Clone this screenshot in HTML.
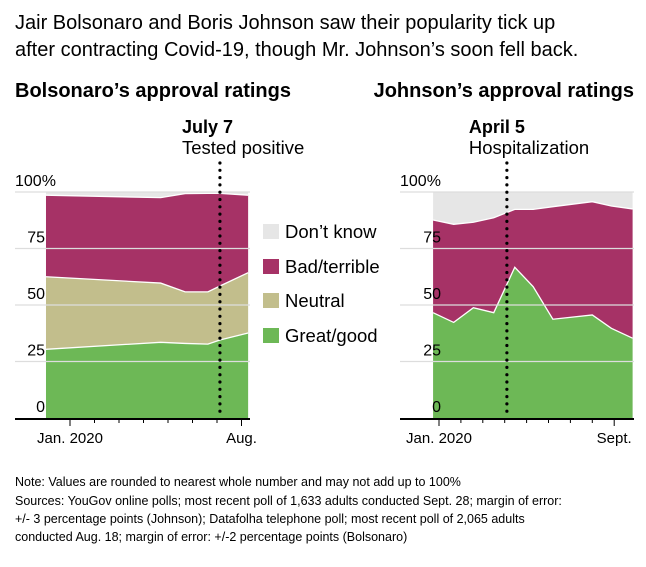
<!DOCTYPE html>
<html><head><meta charset="utf-8"><style>
body{margin:0;background:#fff;font-family:"Liberation Sans",sans-serif;color:#111}
svg text{font-family:"Liberation Sans",sans-serif}
</style></head><body>
<svg width="646" height="562" xmlns="http://www.w3.org/2000/svg">
<text x="15" y="29" font-size="20">Jair Bolsonaro and Boris Johnson saw their popularity tick up</text>
<text x="15" y="56" font-size="20">after contracting Covid-19, though Mr. Johnson’s soon fell back.</text>
<text x="15" y="97" font-size="20" font-weight="bold">Bolsonaro’s approval ratings</text>
<text x="634" y="97" font-size="20" font-weight="bold" text-anchor="end">Johnson’s approval ratings</text>
<g id="left"></g>
<g id="right"></g>
<g>
<rect x="263" y="224" width="16" height="15" fill="#e6e6e6"/>
<text x="285" y="238" font-size="18.5">Don’t know</text>
<rect x="263" y="259" width="16" height="15" fill="#a63266"/>
<text x="285" y="273" font-size="18.5">Bad/terrible</text>
<rect x="263" y="293" width="16" height="15" fill="#c2be8c"/>
<text x="285" y="307" font-size="18.5">Neutral</text>
<rect x="263" y="328" width="16" height="15" fill="#6db856"/>
<text x="285" y="342" font-size="18.5">Great/good</text>
</g>
<g font-size="12.5">
<text x="15" y="486">Note: Values are rounded to nearest whole number and may not add up to 100%</text>
<text x="15" y="505">Sources: YouGov online polls; most recent poll of 1,633 adults conducted Sept. 28; margin of error:</text>
<text x="15" y="523">+/- 3 percentage points (Johnson); Datafolha telephone poll; most recent poll of 2,065 adults</text>
<text x="15" y="541">conducted Aug. 18; margin of error: +/-2 percentage points (Bolsonaro)</text>
</g>
</svg>
<script>
// Bolsonaro data (month index, Jan 2020 = 0)
const bMonths=[-0.98,3.7,4.7,5.63,6.12,7.27];
const bGood=[30.4,33.5,33,32.7,34.5,37.6];
const bNeutral=[32.1,26.2,22.8,23.1,23.9,26.7];
const bBad=[36.1,37.8,43.5,43.6,41,34.3];
const bTickLabels=["Jan. 2020","Aug."];
// Johnson data
const jMonths=[-0.27,0.67,1.57,2.5,3.46,4.3,5.2,7.0,7.87,8.84];
const jGood=[46.6,42.3,48.8,46.6,66.7,58.1,43.7,45.6,39.7,35.3];
const jBad=[41,43.4,37.8,42,25.6,34.2,49.8,50.1,54.1,57.2];
const jTickLabels=["Jan. 2020","Sept."];
const yTicks=[0,25,50,75,100];
const NS="http://www.w3.org/2000/svg";
function mk(p,t,a){const e=document.createElementNS(NS,t);for(const k in a)e.setAttribute(k,a[k]);p.appendChild(e);return e;}
function y(v){return 418-v*2.26;}
function draw(g,cfg){
  const x=m=>cfg.x0+m*cfg.pm;
  const M=cfg.months;
  let cum=M.map(()=>0);
  const layers=cfg.layers;
  const top=M.map(()=>100);
  function area(ms,lo,hi){let d='M'+ms.map((m,i)=>x(m)+','+y(hi[i])).join('L');for(let i=ms.length-1;i>=0;i--)d+='L'+x(ms[i])+','+y(lo[i]);return d+'Z';}
  const bg=mk(g,'path',{d:area(M,cum,top),fill:'#e6e6e6'});
  
  
  const stack=[];
  layers.forEach(L=>{const hi=cum.map((c,i)=>c+L.vals[i]);stack.push([cum,hi,L]);cum=hi;});
  for(let k=stack.length-1;k>=0;k--){const [lo,hi,L]=stack[k];
    const p=mk(g,'path',{d:area(M,lo,hi),fill:L.color});
    
    
    const l=mk(g,'path',{d:'M'+M.map((m,i)=>x(m)+','+y(hi[i])).join('L'),fill:'none',stroke:'#fff','stroke-width':1.3});
    
    
  }
  yTicks.forEach(t=>{
    if(t>0){const gl=mk(g,'line',{x1:cfg.ax0,x2:cfg.ax1,y1:y(t),y2:y(t),stroke:'#ddd','stroke-width':1.2});
    
    }
    const tx=mk(g,'text',{x:cfg.lx,y:y(t)-6,'font-size':16,'text-anchor':t==100?'start':'end'});
    if(t==100)tx.setAttribute('x',cfg.ax0);
    tx.textContent=t==100?'100%':t;
    
    
  });
  const ax=mk(g,'line',{x1:cfg.ax0,x2:cfg.ax1,y1:419,y2:419,stroke:'#000','stroke-width':2});
  
  
  for(let m=0;m<=cfg.nm;m++){const t=mk(g,'line',{x1:x(m),x2:x(m),y1:419,y2:m==0||m==cfg.nm?426:423,stroke:'#000','stroke-width':1});
    
    }
  const l1=mk(g,'text',{x:x(0),y:443,'font-size':15,'text-anchor':'middle'});l1.textContent=cfg.ticks[0];
  
  
  const l2=mk(g,'text',{x:x(cfg.nm),y:443,'font-size':15,'text-anchor':'middle'});l2.textContent=cfg.ticks[1];
  
  
  const ev=mk(g,'line',{x1:x(cfg.ev),x2:x(cfg.ev),y1:163,y2:418,stroke:'#000','stroke-width':3.2,'stroke-dasharray':'0 7.3','stroke-linecap':'round'});
  
  
  const e1=mk(g,'text',{x:x(cfg.ev)-38,y:133,'font-size':18,'font-weight':'bold'});e1.textContent=cfg.evt[0];
  
  
  const e2=mk(g,'text',{x:x(cfg.ev)-38,y:154,'font-size':18.5});e2.textContent=cfg.evt[1];
  
  
}
draw(document.getElementById('left'),{x0:70,pm:24.5,months:bMonths,nm:7,ax0:15,ax1:250,lx:45,ev:6.12,evt:['July 7','Tested positive'],ticks:bTickLabels,
 layers:[{name:'great-good',vals:bGood,color:'#6db856'},{name:'neutral',vals:bNeutral,color:'#c2be8c'},{name:'bad-terrible',vals:bBad,color:'#a63266'}]});
draw(document.getElementById('right'),{x0:439,pm:21.9,months:jMonths,nm:8,ax0:400,ax1:634,lx:441,ev:3.1,evt:['April 5','Hospitalization'],ticks:jTickLabels,
 layers:[{name:'great-good',vals:jGood,color:'#6db856'},{name:'bad-terrible',vals:jBad,color:'#a63266'}]});
</script>
</body></html>
